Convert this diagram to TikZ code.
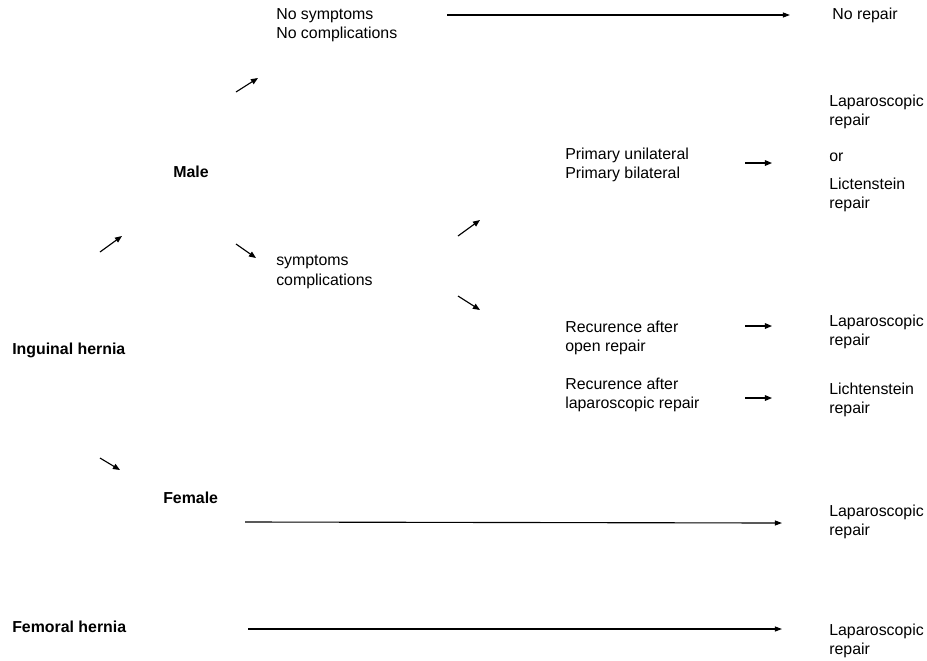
\documentclass[tikz,border=0pt]{standalone}
\usepackage{fontspec}
\setmainfont{Liberation Sans}
\usetikzlibrary{arrows.meta}

\begin{document}
\begin{tikzpicture}[
  x=0.025cm, y=-0.025cm,
  txt/.style={anchor=west, inner sep=0pt, align=left,
              font=\fontsize{11.3}{13.6}\selectfont},
  head/.style={txt, font=\fontsize{11.3}{13.6}\selectfont\bfseries},
  shortarr/.style={draw=black, line width=0.8pt, -{Triangle[length=5pt, width=4pt]}},
  longarr/.style={draw=black, line width=0.8pt, -{Triangle[length=5pt, width=3.5pt]}},
]
\useasboundingbox (0,0) rectangle (927,660);
% ---- left column: hernia type and sex
\node[head] (inguinal) at (12, 350) {Inguinal hernia};
\node[head] (femoral) at (12, 627) {Femoral hernia};
\node[head] (male) at (173, 172) {Male};
\node[head] (female) at (163, 498) {Female};
% ---- symptoms
\node[txt] (nosymp) at (276, 25) {No symptoms\\No complications};
\node[txt] (symp) at (276, 272) {symptoms\\complications};
% ---- hernia kinds for symptomatic males
\node[txt] (primary) at (565, 165) {Primary unilateral\\Primary bilateral};
\node[txt] (recopen) at (565, 338) {Recurence after\\open repair};
\node[txt] (reclap) at (565, 395) {Recurence after\\laparoscopic repair};
% ---- treatments
\node[txt] (norepair) at (832, 15) {No repair};
\node[txt] (lapa) at (829, 112) {Laparoscopic\\repair};
\node[txt] (orword) at (829, 157) {or};
\node[txt] (licht) at (829, 195) {Lictenstein\\repair};
\node[txt] (lapb) at (829, 332) {Laparoscopic\\repair};
\node[txt] (lichtb) at (829, 400) {Lichtenstein\\repair};
\node[txt] (lapc) at (829, 522) {Laparoscopic\\repair};
\node[txt] (lapd) at (829, 641) {Laparoscopic\\repair};
% ---- free arrow ends
\coordinate (m0) at (100, 252);   \coordinate (m1) at (122, 236);
\coordinate (f0) at (100, 458);   \coordinate (f1) at (120, 470);
\coordinate (n0) at (236, 92);    \coordinate (n1) at (258, 78);
\coordinate (s0) at (236, 244);   \coordinate (s1) at (256, 258);
\coordinate (p0) at (458, 236);   \coordinate (p1) at (480, 220);
\coordinate (r0) at (458, 296);   \coordinate (r1) at (480, 310);
\coordinate (t0) at (447, 15);    \coordinate (t1) at (790, 15);
\coordinate (u0) at (745, 163);   \coordinate (u1) at (772, 163);
\coordinate (v0) at (745, 326);   \coordinate (v1) at (772, 326);
\coordinate (w0) at (745, 398);   \coordinate (w1) at (772, 398);
\coordinate (x0) at (245, 522);   \coordinate (x1) at (782, 523);
\coordinate (y0) at (248, 629);   \coordinate (y1) at (782, 629);
% ---- short step arrows
\foreach \a in {m, f, n, s, p, r, u, v, w}
  \draw[shortarr] (\a0) -- (\a1);
% ---- long arrows to treatment
\foreach \a in {t, x, y}
  \draw[longarr] (\a0) -- (\a1);
\end{tikzpicture}
\end{document}
